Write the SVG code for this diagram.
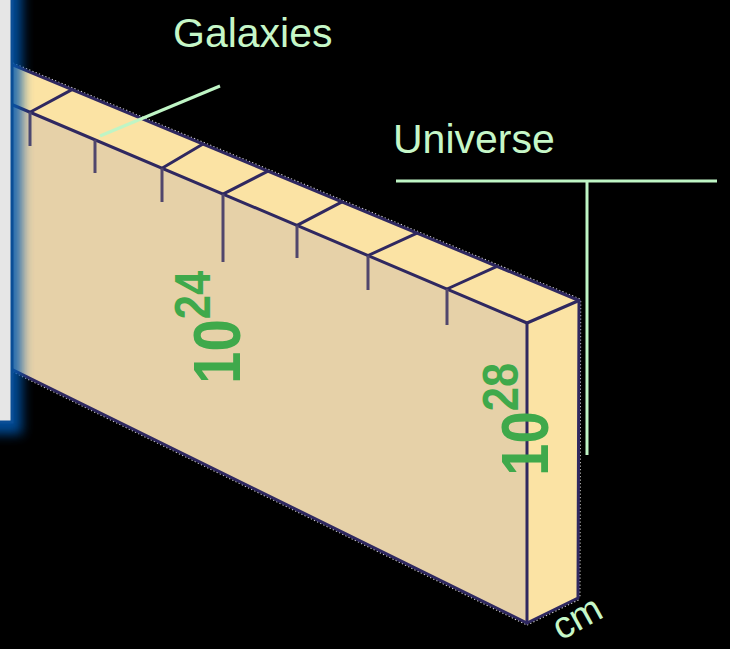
<svg xmlns="http://www.w3.org/2000/svg" width="730" height="649" viewBox="0 0 730 649">
<defs>
<style>
.lbl{font-family:"Liberation Sans",Arial,sans-serif;fill:#C6F7C8;}
.num{font-family:"Liberation Sans",Arial,sans-serif;font-weight:bold;fill:#3FA94B;}
.edge{stroke:#2F2860;stroke-width:3;fill:none;stroke-linecap:round;stroke-linejoin:round;}
.tick{stroke:#51466C;stroke-width:3;fill:none;}
.dots{stroke:#FFFFFF;stroke-width:1.3;stroke-dasharray:1.3 2.2;fill:none;opacity:0.85;}
.ptr{stroke:#BFF5C5;stroke-width:3;fill:none;}
</style>
<filter id="glow" filterUnits="userSpaceOnUse" x="-60" y="-60" width="160" height="560">
<feGaussianBlur stdDeviation="6"/>
</filter>
</defs>
<rect width="730" height="649" fill="#000000"/>
<g id="slab">
<polygon points="0,99.5 527,323 527,623 0,363.6" fill="#E6D1A8"/>
<polygon points="0,59.6 579,300.5 527,323 0,99.5" fill="#FBE3A4"/>
<polygon points="527,323 579,300.5 578,598 527,623" fill="#FBE3A4"/>
<line class="dots" x1="0" y1="57.8" x2="580" y2="299"/>
<line class="dots" x1="0" y1="365.4" x2="527" y2="625"/>
<line class="dots" x1="527" y1="625" x2="578.5" y2="599.8"/>
<line class="dots" x1="580.6" y1="301" x2="579.8" y2="598"/>
<polyline class="edge" points="0,59.6 579,300.5 578,598 527,623 0,363.6"/>
<polyline class="edge" points="0,99.5 527,323 579,300.5"/>
<line class="edge" x1="527" y1="323" x2="527" y2="623"/>
<g class="edge">
<line x1="30" y1="112.2" x2="72" y2="89.6"/>
<line x1="162" y1="168.2" x2="203" y2="144"/>
<line x1="223" y1="194.1" x2="268" y2="171.1"/>
<line x1="297" y1="225.4" x2="342" y2="201.9"/>
<line x1="368" y1="255.5" x2="417" y2="233.1"/>
<line x1="447" y1="289" x2="497" y2="266.4"/>
</g>
<g class="tick">
<line x1="30" y1="112.2" x2="30" y2="146"/>
<line x1="95" y1="139.8" x2="95" y2="173"/>
<line x1="162" y1="168.2" x2="162" y2="202"/>
<line x1="223" y1="194.1" x2="223" y2="262"/>
<line x1="297" y1="225.4" x2="297" y2="258"/>
<line x1="368" y1="255.5" x2="368" y2="290"/>
<line x1="447" y1="289" x2="447" y2="325"/>
</g>
</g>
<g id="window-edge">
<rect x="-20" y="-20" width="42" height="454" fill="#0058B0" opacity="0.85" filter="url(#glow)"/>
<rect x="-5" y="-5" width="17" height="427" fill="#E6E6E6" stroke="#0A4E96" stroke-width="3"/>
</g>
<g id="connectors">
<line class="ptr" x1="220" y1="86" x2="100" y2="136"/>
<line class="ptr" x1="396" y1="181" x2="717" y2="181"/>
<line class="ptr" x1="587" y1="181" x2="587" y2="455"/>
</g>
<g id="label-galaxies">
<text class="lbl" x="173" y="47" font-size="41">Galaxies</text>
</g>
<g id="label-universe">
<text class="lbl" x="393" y="153" font-size="41">Universe</text>
</g>
<g id="label-1e24" transform="translate(240,384) rotate(-90) scale(0.87,1)">
<text class="num" x="0" y="0" font-size="67">10<tspan dy="-30" font-size="50">24</tspan></text>
</g>
<g id="label-1e28" transform="translate(548,476) rotate(-90) scale(0.87,1)">
<text class="num" x="0" y="0" font-size="67">10<tspan dy="-30" font-size="50">28</tspan></text>
</g>
<g id="label-cm">
<text class="lbl" x="561" y="641" font-size="38" transform="rotate(-29 561 641)">cm</text>
</g>
</svg>
